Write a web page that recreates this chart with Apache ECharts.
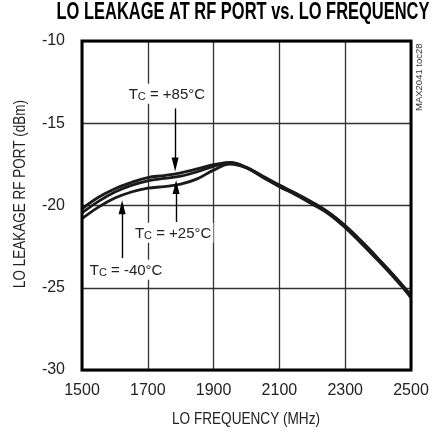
<!DOCTYPE html>
<html>
<head>
<meta charset="utf-8">
<script src="https://cdn.jsdelivr.net/npm/echarts@6/dist/echarts.min.js"></script>
<style>
  html, body { margin: 0; padding: 0; background: #fff; }
  #chart { width: 435px; height: 433px; }
</style>
</head>
<body>
<div id="chart"></div>
<script>
// LO frequency sweep points (MHz)
const freqMHz = [1500, 1550, 1600, 1650, 1700, 1750, 1800, 1850, 1900, 1950, 2000,
                 2050, 2100, 2150, 2200, 2250, 2300, 2350, 2400, 2450, 2500];

// LO leakage at RF port (dBm) per case temperature
const leakT85 = [-20.20, -19.50, -18.98, -18.60, -18.30, -18.18, -18.02, -17.78, -17.52, -17.38, -17.68,
                 -18.25, -18.80, -19.30, -19.85, -20.45, -21.25, -22.20, -23.25, -24.30, -25.45];
const leakT25 = [-20.45, -19.75, -19.18, -18.78, -18.50, -18.35, -18.22, -17.95, -17.62, -17.40, -17.72,
                 -18.30, -18.86, -19.36, -19.92, -20.52, -21.35, -22.32, -23.35, -24.42, -25.55];
const leakTm40 = [-20.80, -20.10, -19.55, -19.18, -18.95, -18.85, -18.70, -18.38, -17.85, -17.48, -17.70,
                  -18.22, -18.76, -19.26, -19.80, -20.42, -21.22, -22.18, -23.22, -24.32, -25.62];

// Axis ticks
const xTicks = { min: 1500, max: 2500, step: 200 };
const yTicks = { min: -30, max: -10, step: 5 };

// Temperature callouts: label anchor and arrow [tail, head] in data units
const callouts = [
  { temp: '+85°C', label: [1758, -13.2], arrow: [[1783, -14.1], [1783, -17.50]] },
  { temp: '+25°C', label: [1777, -21.65], arrow: [[1786, -21.0], [1786, -18.88]] },
  { temp: '-40°C', label: [1634, -23.90], arrow: [[1622, -23.2], [1622, -20.10]] }
];

const sans = '"Liberation Sans", Arial, Helvetica, sans-serif';
const TITLE = 'LO LEAKAGE AT RF PORT vs. LO FREQUENCY';
const X_NAME = 'LO FREQUENCY (MHz)';
const Y_NAME = 'LO LEAKAGE RF PORT (dBm)';
const TITLE_FONT = 'bold 23px "Liberation Sans", Arial, sans-serif';
const NAME_FONT = '17px "Liberation Sans", Arial, sans-serif';

// Horizontal squeeze so a text run fits a given width (condensed look)
function squeeze(text, font, width) {
  const ctx = document.createElement('canvas').getContext('2d');
  ctx.font = font;
  return Math.min(1, width / ctx.measureText(text).width);
}

function curve(name, values) {
  return {
    name: name,
    type: 'line',
    smooth: 0.4,
    symbol: 'none',
    lineStyle: { color: '#1a1a1a', width: 2.8 },
    data: freqMHz.map((f, i) => [f, values[i]]),
    z: 3
  };
}

const calloutSeries = {
  type: 'line',
  data: [],
  silent: true,
  z: 5,
  markLine: {
    silent: true,
    symbol: ['none', 'triangle'],
    symbolSize: [7, 14],
    label: { show: false },
    lineStyle: { color: '#000', width: 1.4, type: 'solid' },
    emphasis: { disabled: true },
    data: callouts.map(c => [
      { coord: c.arrow[0] },
      { coord: c.arrow[1] }
    ])
  },
  markPoint: {
    silent: true,
    symbol: 'rect',
    symbolSize: 1,
    itemStyle: { color: 'rgba(0,0,0,0)' },
    label: {
      show: true,
      position: 'inside',
      backgroundColor: '#fff',
      padding: [1, 2, 1, 2],
      formatter: p => '{t|T}{s|C}{t| = ' + p.name + '}',
      rich: {
        t: { fontFamily: sans, fontSize: 15, color: '#222', lineHeight: 18, verticalAlign: 'bottom' },
        s: { fontFamily: sans, fontSize: 11, color: '#222', lineHeight: 18, verticalAlign: 'bottom', padding: [5, 0, 0, 0] }
      }
    },
    data: callouts.map(c => ({ name: c.temp, coord: c.label }))
  }
};

const chart = echarts.init(document.getElementById('chart'), null, { renderer: 'canvas' });
chart.setOption({
  animation: false,
  backgroundColor: '#fff',
  grid: { left: 82, right: 24, top: 41, bottom: 63, show: true, borderColor: '#000', borderWidth: 3, backgroundColor: 'transparent', z: 4 },
  xAxis: {
    type: 'value', min: xTicks.min, max: xTicks.max, interval: xTicks.step,
    axisLine: { show: false }, axisTick: { show: false },
    axisLabel: { fontFamily: sans, fontSize: 16, color: '#222', margin: 13, formatter: v => String(v) },
    splitLine: { show: true, lineStyle: { color: '#333', width: 1.3 } }
  },
  yAxis: {
    type: 'value', min: yTicks.min, max: yTicks.max, interval: yTicks.step,
    axisLine: { show: false }, axisTick: { show: false },
    axisLabel: { fontFamily: sans, fontSize: 16, color: '#222', margin: 17, formatter: v => String(v) },
    splitLine: { show: true, lineStyle: { color: '#333', width: 1.3 } }
  },
  graphic: [
    {
      type: 'text', x: 243, y: 13, scaleX: squeeze(TITLE, TITLE_FONT, 373), silent: true,
      style: { text: TITLE, font: TITLE_FONT, fill: '#000', textAlign: 'center', textVerticalAlign: 'middle' }
    },
    {
      type: 'text', x: 246, y: 419, scaleX: squeeze(X_NAME, NAME_FONT, 148), silent: true,
      style: { text: X_NAME, font: NAME_FONT, fill: '#222', textAlign: 'center', textVerticalAlign: 'middle' }
    },
    {
      type: 'text', x: 20, y: 194, rotation: Math.PI / 2, scaleX: squeeze(Y_NAME, NAME_FONT, 188), silent: true,
      style: { text: Y_NAME, font: NAME_FONT, fill: '#222', textAlign: 'center', textVerticalAlign: 'middle' }
    },
    {
      type: 'text', x: 419, y: 111, rotation: Math.PI / 2, silent: true,
      style: { text: 'MAX2041 toc28', fontFamily: sans, fontSize: 9.5, fill: '#333', textAlign: 'left', textVerticalAlign: 'middle' }
    }
  ],
  series: [
    curve('TC = +85°C', leakT85),
    curve('TC = +25°C', leakT25),
    curve('TC = -40°C', leakTm40),
    calloutSeries
  ]
});
</script>
</body>
</html>
